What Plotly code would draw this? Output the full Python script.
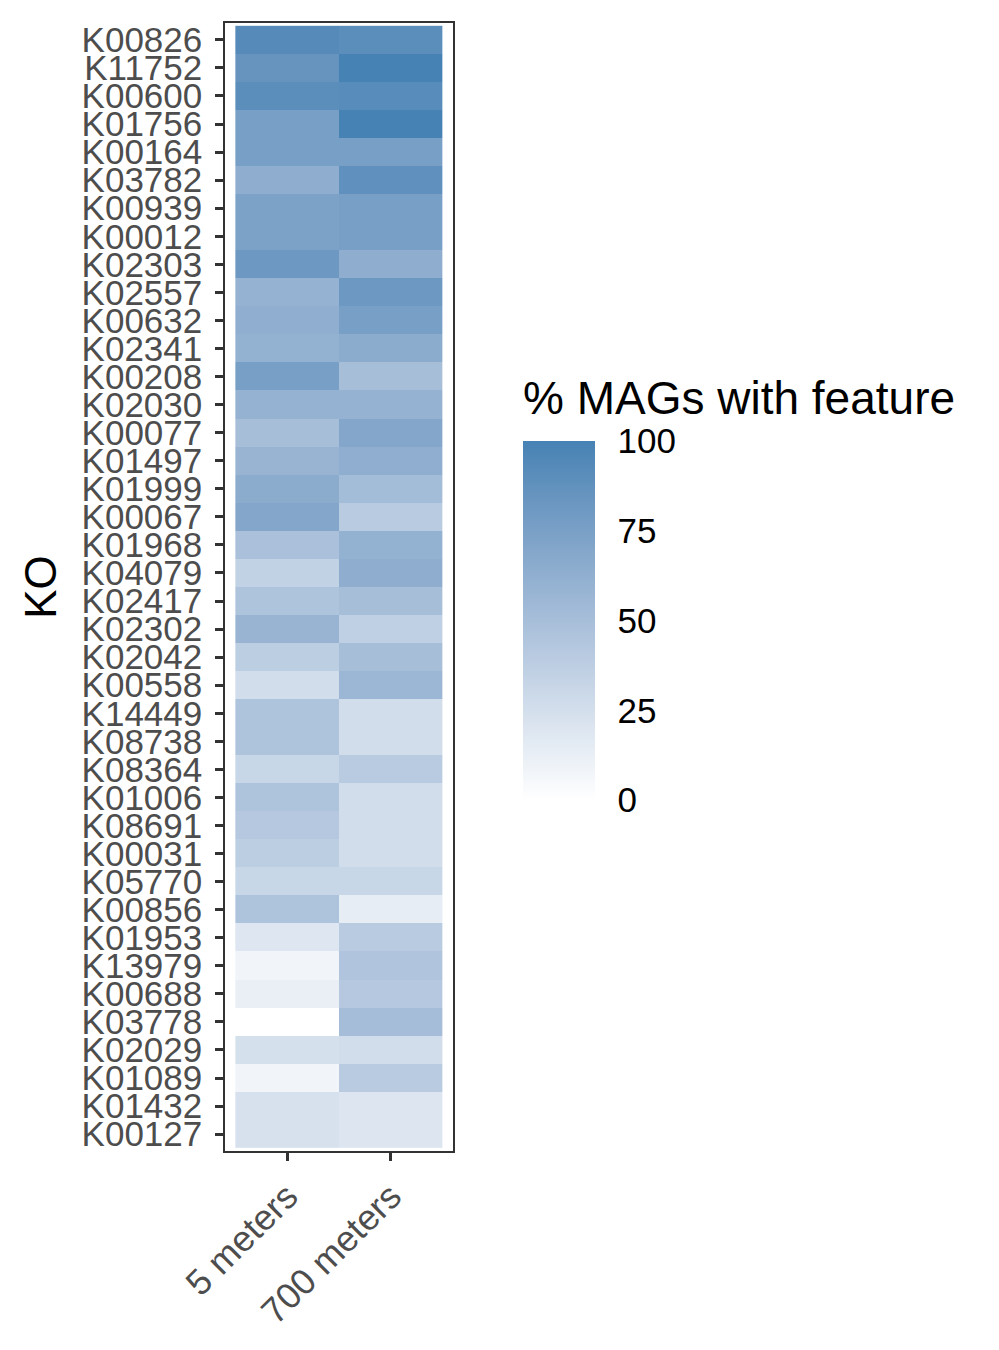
"""Heatmap of KO presence in MAGs, 5 m vs 700 m."""

import plotly.graph_objects as go

ko = [
    "K00826", "K11752", "K00600", "K01756", "K00164", "K03782", "K00939",
    "K00012", "K02303", "K02557", "K00632", "K02341", "K00208", "K02030",
    "K00077", "K01497", "K01999", "K00067", "K01968", "K04079", "K02417",
    "K02302", "K02042", "K00558", "K14449", "K08738", "K08364", "K01006",
    "K08691", "K00031", "K05770", "K00856", "K01953", "K13979", "K00688",
    "K03778", "K02029", "K01089", "K01432", "K00127",
]
depths = ["5 meters", "700 meters"]

pct_5m = [93, 85, 90, 76, 76, 64, 73, 73, 82, 60, 63, 61, 76, 60, 50, 58,
          65, 70, 48, 35, 46, 58, 38, 26, 46, 46, 31, 46, 42, 38, 31, 46,
          19, 8, 12, 0, 24, 8, 23, 23]
pct_700m = [90, 100, 92, 100, 76, 88, 76, 76, 64, 82, 76, 65, 50, 60, 70,
            63, 52, 40, 61, 64, 50, 36, 50, 56, 26, 26, 40, 26, 26, 26, 31,
            14, 40, 45, 42, 51, 26, 40, 20, 20]

cbar_ticks = [0, 25, 50, 75, 100]


# white -> steelblue, interpolated in Lab like ggplot's gradient
def _to_lin(c):
    c = c / 255
    return c / 12.92 if c <= 0.04045 else ((c + 0.055) / 1.055) ** 2.4


def _from_lin(c):
    c = 12.92 * c if c <= 0.0031308 else 1.055 * c ** (1 / 2.4) - 0.055
    return max(0, min(255, round(c * 255)))


def rgb_to_lab(rgb):
    r, g, b = (_to_lin(v) for v in rgb)
    x = (0.4124 * r + 0.3576 * g + 0.1805 * b) / 0.95047
    y = 0.2126 * r + 0.7152 * g + 0.0722 * b
    z = (0.0193 * r + 0.1192 * g + 0.9505 * b) / 1.08883
    f = lambda t: t ** (1 / 3) if t > 0.008856 else 7.787 * t + 16 / 116
    fx, fy, fz = f(x), f(y), f(z)
    return 116 * fy - 16, 500 * (fx - fy), 200 * (fy - fz)


def lab_to_rgb(lab):
    L, a, bb = lab
    fy = (L + 16) / 116
    fx = fy + a / 500
    fz = fy - bb / 200
    finv = lambda t: t ** 3 if t ** 3 > 0.008856 else (t - 16 / 116) / 7.787
    x, y, z = finv(fx) * 0.95047, finv(fy), finv(fz) * 1.08883
    r = 3.2406 * x - 1.5372 * y - 0.4986 * z
    g = -0.9689 * x + 1.8758 * y + 0.0415 * z
    b = 0.0557 * x - 0.2040 * y + 1.0570 * z
    return tuple(_from_lin(v) for v in (r, g, b))


low = rgb_to_lab((255, 255, 255))
high = rgb_to_lab((70, 130, 180))
colorscale = []
for i in range(11):
    t = i / 10
    lab = tuple(lo + (hi - lo) * t for lo, hi in zip(low, high))
    colorscale.append([t, "rgb(%d,%d,%d)" % lab_to_rgb(lab)])

z = [[a, b] for a, b in zip(pct_5m, pct_700m)]

FONT = "Liberation Sans, Arial, sans-serif"
GREY = "#4D4D4D"

# the page body has an 8px margin, so the figure is drawn 8px smaller
OFF = 8
W, H = 999 - OFF, 1350 - OFF
# pixel geometry of the panel and the colour bar (figure coordinates)
L_PX, R_PX, T_PX, B_PX = 225 - OFF, 453 - OFF, 23 - OFF, 1151 - OFF
CB_LEFT, CB_W, CB_TOP, CB_LEN = 523 - OFF, 72, 441 - OFF, 359

xs_paper = lambda px: (px - L_PX) / (R_PX - L_PX)
ys_paper = lambda px: (B_PX - px) / (B_PX - T_PX)

fig = go.Figure(
    go.Heatmap(
        z=z,
        x=depths,
        y=ko,
        zmin=0,
        zmax=100,
        colorscale=colorscale,
        colorbar=dict(
            thicknessmode="pixels",
            thickness=CB_W,
            lenmode="pixels",
            len=CB_LEN,
            x=xs_paper(CB_LEFT),
            xanchor="left",
            y=ys_paper(CB_TOP + CB_LEN / 2),
            yanchor="middle",
            xpad=0,
            ypad=0,
            outlinewidth=0,
            tickvals=cbar_ticks,
            ticks="outside",
            ticklen=16,
            tickcolor="rgba(0,0,0,0)",
            tickfont=dict(family=FONT, size=35, color="black"),
        ),
        hoverongaps=False,
    )
)

# white tick marks on both edges of the colour bar
for v in cbar_ticks[1:]:
    yp = ys_paper(CB_TOP + CB_LEN * (1 - v / 100))
    for x0, x1 in ((CB_LEFT, CB_LEFT + 14), (CB_LEFT + CB_W - 14, CB_LEFT + CB_W)):
        fig.add_shape(
            type="line", xref="paper", yref="paper",
            x0=xs_paper(x0), x1=xs_paper(x1), y0=yp, y1=yp,
            line=dict(color="white", width=1.5),
        )

fig.add_annotation(
    text="% MAGs with feature",
    xref="paper", yref="paper",
    x=xs_paper(CB_LEFT - 2), y=ys_paper(398 - OFF),
    xanchor="left", yanchor="middle",
    showarrow=False,
    font=dict(family=FONT, size=46, color="black"),
)

fig.update_xaxes(
    range=[-0.6, 1.6],
    showline=True, mirror=True, linecolor="#333333", linewidth=1.5,
    ticks="outside", ticklen=8, tickwidth=2.5, tickcolor="#333333",
    tickangle=-45,
    tickfont=dict(family=FONT, size=36, color=GREY),
    showgrid=False, zeroline=False,
)
fig.update_yaxes(
    range=[len(ko) - 0.4, -0.6],
    tickmode="array", tickvals=ko, ticktext=ko,
    showline=True, mirror=True, linecolor="#333333", linewidth=1.5,
    ticks="outside", ticklen=8, tickwidth=2.5, tickcolor="#333333",
    ticklabelstandoff=6,
    tickfont=dict(family=FONT, size=35, color=GREY),
    title=dict(text="KO", font=dict(family=FONT, size=44, color="black"), standoff=11),
    showgrid=False, zeroline=False,
)

fig.update_layout(
    width=W,
    height=H,
    margin=dict(l=L_PX, r=W - R_PX, t=T_PX, b=H - B_PX, autoexpand=False),
    plot_bgcolor="white",
    paper_bgcolor="white",
)

fig.write_html("out.html")
